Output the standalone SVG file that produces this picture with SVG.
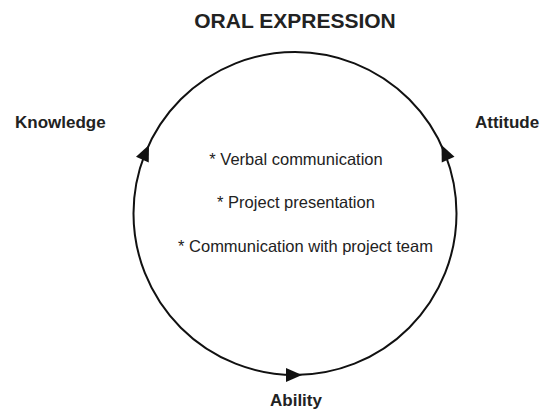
<svg xmlns="http://www.w3.org/2000/svg" width="543" height="415" viewBox="0 0 543 415">
<style>
.lbl{font-family:"Liberation Sans",Arial,sans-serif;font-weight:bold;font-size:17px;fill:#222}
.title{font-family:"Liberation Sans",Arial,sans-serif;font-weight:bold;font-size:21px;fill:#222}
.item{font-family:"Liberation Sans",Arial,sans-serif;font-size:16.5px;fill:#222}
.ring{fill:none;stroke:#111;stroke-width:2}
.ah{fill:#111}
</style>
<defs>
<path id="arrowhead" class="ah" d="M0,0 L-16,-7 L-16,7 Z"/>
</defs>
<rect width="543" height="415" fill="#fff"/>
<g id="title"><text class="title" x="295" y="28" text-anchor="middle">ORAL EXPRESSION</text></g>
<g id="connectors">
<circle class="ring" cx="295" cy="213.5" r="161.5"/>
<use href="#arrowhead" transform="translate(149,145) rotate(-65.5)"/>
<use href="#arrowhead" transform="translate(441.5,145) rotate(-114.5)"/>
<use href="#arrowhead" transform="translate(302,375) rotate(0)"/>
</g>
<g id="knowledge"><text class="lbl" x="15" y="128">Knowledge</text></g>
<g id="attitude"><text class="lbl" x="475" y="128">Attitude</text></g>
<g id="ability"><text class="lbl" x="296" y="406" text-anchor="middle">Ability</text></g>
<g id="content">
<text class="item" x="296" y="165" text-anchor="middle">* Verbal communication</text>
<text class="item" x="296" y="208" text-anchor="middle">* Project presentation</text>
<text class="item" x="305.5" y="252" text-anchor="middle">* Communication with project team</text>
</g>
</svg>
